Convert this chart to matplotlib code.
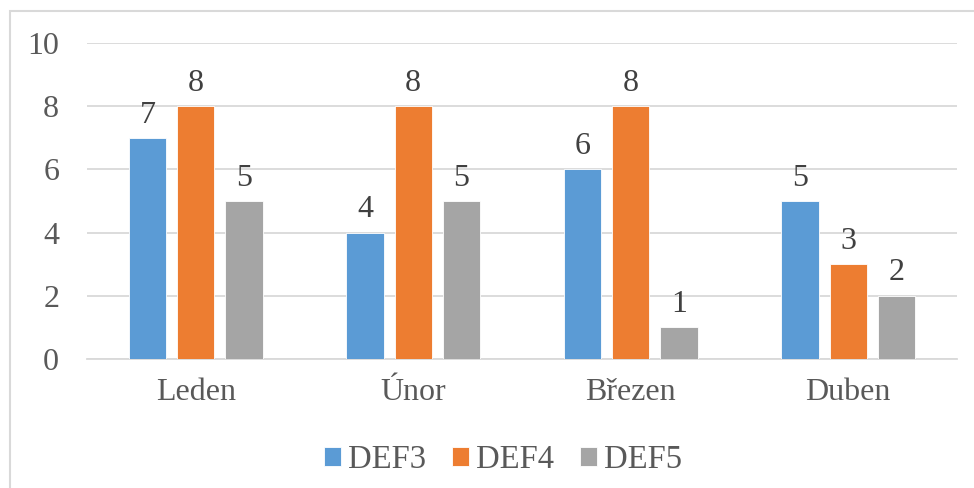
import matplotlib.pyplot as plt
import numpy as np
from matplotlib.patches import Rectangle

plt.rcParams["font.family"] = ["Liberation Serif", "DejaVu Serif"]

months = ["Leden", "Únor", "Březen", "Duben"]
series = ["DEF3", "DEF4", "DEF5"]
def3 = [7, 4, 6, 5]
def4 = [8, 8, 8, 3]
def5 = [5, 5, 1, 2]
colors = ["#5B9BD5", "#ED7D31", "#A5A5A5"]

fig = plt.figure(figsize=(9.74, 4.88), dpi=100)
ax = fig.add_axes([0.0893, 0.2643, 0.8932, 0.6475])

x = np.arange(len(months))
width = 0.172
pitch = 0.222
for k, (vals, name, c) in enumerate(zip([def3, def4, def5], series, colors)):
    pos = x + (k - 1) * pitch
    ax.bar(pos, vals, width, color=c, edgecolor="white", linewidth=0.6,
           label=name, zorder=3)
    for xp, v in zip(pos, vals):
        ax.annotate(str(v), (xp, v), xytext=(0, 6), textcoords="offset points",
                    ha="center", va="bottom", fontsize=23, color="#404040")

ax.set_xlim(-0.5, len(months) - 0.5)
ax.set_ylim(0, 10)
ax.set_yticks(range(0, 11, 2))
ax.set_xticks(x)
ax.set_xticklabels(months)
ax.tick_params(axis="both", length=0, labelsize=23, labelcolor="#595959")
ax.tick_params(axis="y", pad=20)
ax.tick_params(axis="x", pad=14)
ax.grid(axis="y", color="#D9D9D9", linewidth=1.3, zorder=0)
for s in ["top", "right", "left"]:
    ax.spines[s].set_visible(False)
ax.spines["bottom"].set_color("#D9D9D9")
ax.spines["bottom"].set_linewidth(1.3)

fig.legend(loc="center", bbox_to_anchor=(0.5164, 0.057), ncol=3, frameon=False,
           fontsize=23.5, handlelength=0.52, handleheight=0.52, handletextpad=0.21,
           columnspacing=0.8, labelcolor="#595959")

# chart area border (only top/left are inside the image)
fig.patches.append(Rectangle((9.5 / 974, -0.1), 1.2, 1.1 - 11.5 / 488,
                             transform=fig.transFigure, fill=False,
                             edgecolor="#D9D9D9", linewidth=1.5))

fig.savefig("out.png", dpi=100)
